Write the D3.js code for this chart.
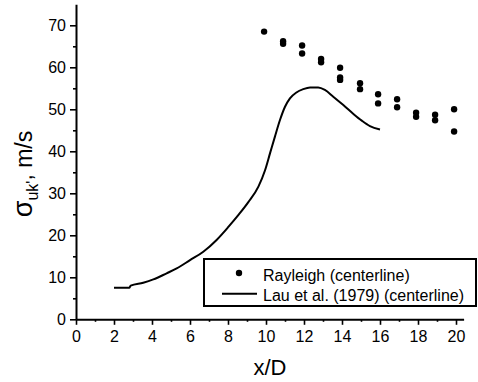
<!DOCTYPE html>
<html>
<head>
<meta charset="utf-8">
<script src="https://cdn.jsdelivr.net/npm/d3@7"></script>
<style>
  body { margin: 0; background: #fff; }
  text { font-family: Arial, "Liberation Sans", sans-serif; fill: #000; }
</style>
</head>
<body>
<svg id="chart" width="478" height="382"></svg>
<script>
// Rayleigh scattering measurements (centerline)
const rayleighX = [9.9, 10.9, 10.9, 11.9, 11.9, 12.9, 12.9, 13.9, 13.9, 13.9, 14.95, 14.95,
  15.9, 15.9, 16.9, 16.9, 17.9, 17.9, 18.9, 18.9, 19.9, 19.9];
const rayleighY = [68.5, 66.2, 65.6, 65.2, 63.3, 62.0, 61.2, 59.9, 57.6, 57.0, 56.2, 54.8,
  53.6, 51.4, 52.4, 50.5, 49.2, 48.2, 48.7, 47.4, 50.0, 44.7];

// Lau et al. (1979) centerline curve
const lauX = [2.0, 2.8, 2.88, 3.54, 4.07, 4.77, 5.3, 6.0, 6.7, 7.4, 8.02, 8.54, 9.07,
  9.6, 9.95, 10.21, 10.47, 10.74, 11.0, 11.26, 11.6, 11.96, 12.32, 12.75, 13.1,
  13.54, 14.07, 14.6, 15.04, 15.47, 16.0];
const lauY = [7.5, 7.5, 8.0, 8.7, 9.5, 10.95, 12.1, 14.1, 16.1, 18.9, 22.0, 24.8, 27.9,
  31.6, 35.5, 39.5, 43.5, 47.5, 50.6, 52.6, 54.0, 54.8, 55.2, 55.2, 54.6,
  53.0, 51.0, 48.9, 47.3, 46.0, 45.2];

const xTicks = [0, 2, 4, 6, 8, 10, 12, 14, 16, 18, 20];
const xMinor = [1, 3, 5, 7, 9, 11, 13, 15, 17, 19];
const yTicks = [0, 10, 20, 30, 40, 50, 60, 70];
const yMinor = [5, 15, 25, 35, 45, 55, 65];

const legendLabels = ["Rayleigh (centerline)", "Lau et al. (1979) (centerline)"];

const svg = d3.select('#chart');

const x = d3.scaleLinear().domain([0, 20.4]).range([76, 463.6]);
const y = d3.scaleLinear().domain([0, 75]).range([319.3, 4.3]);

// minor ticks first, then major axes on top
svg.append('g')
  .attr('transform', `translate(0,${y(0)})`)
  .call(d3.axisBottom(x).tickValues(xMinor).tickSize(2.5).tickFormat('').tickSizeOuter(0))
  .call(g => g.select('.domain').remove())
  .selectAll('line').attr('stroke-width', 1.6);

svg.append('g')
  .attr('transform', `translate(${x(0)},0)`)
  .call(d3.axisLeft(y).tickValues(yMinor).tickSize(3).tickFormat('').tickSizeOuter(0))
  .call(g => g.select('.domain').remove())
  .selectAll('line').attr('stroke-width', 1.6);

const xAxis = svg.append('g')
  .attr('transform', `translate(0,${y(0)})`)
  .call(d3.axisBottom(x).tickValues(xTicks).tickSize(5.5).tickSizeOuter(0).tickPadding(6));

const yAxis = svg.append('g')
  .attr('transform', `translate(${x(0)},0)`)
  .call(d3.axisLeft(y).tickValues(yTicks).tickSize(6).tickSizeOuter(0).tickPadding(4));

[xAxis, yAxis].forEach(g => {
  g.attr('font-family', null).attr('font-size', null);
  g.select('.domain').attr('stroke-width', 2);
  g.selectAll('.tick line').attr('stroke-width', 1.6);
  g.selectAll('text').style('font-size', '16px');
});

// Lau curve
const line = d3.line()
  .x((d, i) => x(lauX[i]))
  .y((d, i) => y(lauY[i]))
  .curve(d3.curveMonotoneX);

svg.append('path')
  .datum(lauX)
  .attr('d', line)
  .attr('fill', 'none')
  .attr('stroke', '#000')
  .attr('stroke-width', 2);

// Rayleigh dots
svg.append('g')
  .selectAll('circle')
  .data(rayleighX)
  .join('circle')
  .attr('cx', d => x(d))
  .attr('cy', (d, i) => y(rayleighY[i]))
  .attr('r', 3.2)
  .attr('fill', '#000');

// axis titles
svg.append('text')
  .attr('x', 270)
  .attr('y', 375)
  .attr('text-anchor', 'middle')
  .style('font-size', '22px')
  .text('x/D');

const yTitle = svg.append('text')
  .attr('transform', 'translate(32,174) rotate(-90)')
  .attr('text-anchor', 'middle')
  .style('font-size', '23px');
yTitle.append('tspan').style('font-size', '27px').text('σ');
yTitle.append('tspan').attr('dy', 6).style('font-size', '16px').text("uk'");
yTitle.append('tspan').attr('dy', -6).text(', m/s');

// legend
const legend = svg.append('g');
legend.append('rect')
  .attr('x', 204).attr('y', 259)
  .attr('width', 272).attr('height', 47)
  .attr('fill', '#fff')
  .attr('stroke', '#000')
  .attr('stroke-width', 2);
legend.append('circle')
  .attr('cx', 239).attr('cy', 273).attr('r', 3.2).attr('fill', '#000');
legend.append('line')
  .attr('x1', 222).attr('x2', 257)
  .attr('y1', 293.7).attr('y2', 293.7)
  .attr('stroke', '#000').attr('stroke-width', 2);
legend.selectAll('text.lab')
  .data(legendLabels)
  .join('text')
  .attr('class', 'lab')
  .attr('x', 263)
  .attr('y', (d, i) => 280.5 + i * 20)
  .style('font-size', '16px')
  .text(d => d);
</script>
</body>
</html>
